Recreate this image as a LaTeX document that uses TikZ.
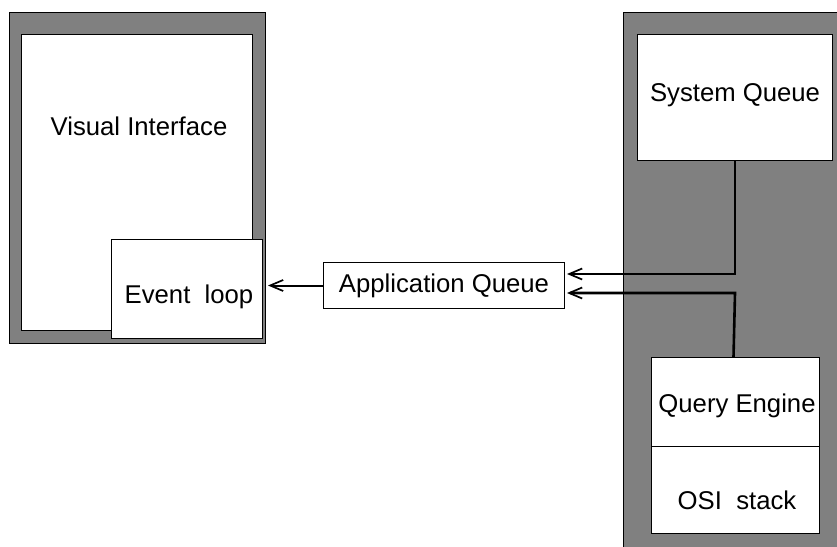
\documentclass[tikz,border=0pt]{standalone}
\usepackage{fontspec}
\setmainfont{Liberation Sans}
\usetikzlibrary{arrows.meta}
\definecolor{graybg}{RGB}{128,128,128}
\begin{document}
\begin{tikzpicture}[x=1pt,y=-1pt,
  frame/.style={draw=black, line width=1pt, fill=graybg, inner sep=0pt, anchor=north west},
  box/.style={draw=black, line width=1pt, fill=white, inner sep=0pt, anchor=north west},
  lbl/.style={font=\fontsize{25.7}{30}\selectfont, inner sep=0pt},
  link/.style={line width=2.6pt, line join=miter,
    -{Straight Barb[length=13pt,width=11pt,line width=1.7pt]}},
]
\clip (0,0) rectangle (837,546);

% left block: visual interface with its event loop
\node[frame, minimum width=256pt, minimum height=331pt] (leftframe) at (9,12) {};
\node[box, minimum width=231pt, minimum height=296pt] (vi) at (21,34) {};
\node[lbl] (vilbl) at (139,126) {Visual Interface};
\node[box, minimum width=151pt, minimum height=99pt] (el) at (111,239) {};
\node[lbl] (ellbl) at (189,297) {Event\ \ loop};

% application queue in the middle
\node[box, minimum width=241pt, minimum height=46pt, lbl, anchor=north west] (aq) at (323,262) {Application Queue};

% right block: system queue and query engine
\node[frame, minimum width=240pt, minimum height=560pt] (rightframe) at (623,12) {};
\node[box, minimum width=195pt, minimum height=126pt] (sq) at (637,34) {};
\node[lbl] (sqlbl) at (735,95.5) {System Queue};
\node[box, minimum width=168pt, minimum height=176pt] (qe) at (651,357) {};
\coordinate (div) at (0,446);
\draw[line width=1pt] (qe.west |- div) -- (qe.east |- div);
\node[lbl] (qelbl) at (737,406) {Query Engine};
\node[lbl] (osilbl) at (737,500) {OSI\ \ stack};

% connectors
\coordinate (c1) at (735,274);
\coordinate (c2) at (735,293);
\draw[link, shorten >=2pt] (sq.south) -- (c1) -- (aq.east |- c1);
\draw[link, shorten >=2pt] ([xshift=-2pt]qe.north) -- (c2) -- (aq.east |- c2);
\draw[link, line width=2pt, shorten >=5pt] (aq.west) -- (el.east |- aq.west);
\end{tikzpicture}
\end{document}
